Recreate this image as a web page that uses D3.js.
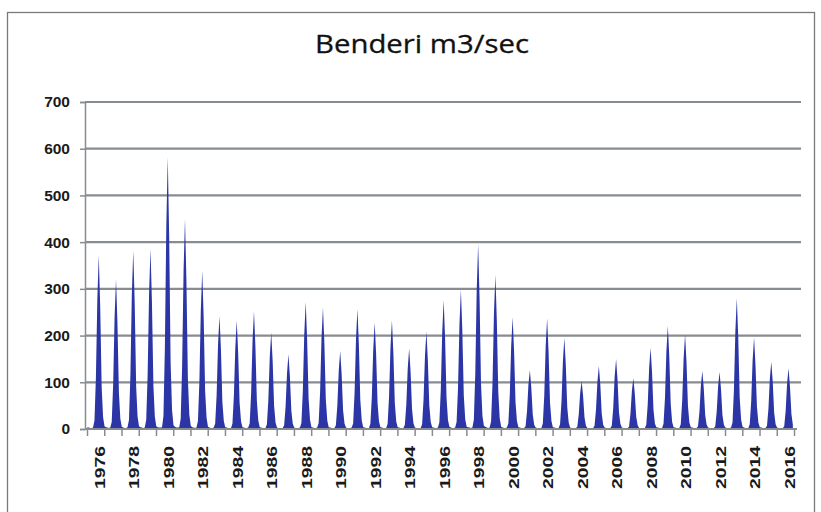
<!DOCTYPE html>
<html>
<head>
<meta charset="utf-8">
<script src="https://cdn.jsdelivr.net/npm/d3@7"></script>
<style>
  html, body { margin: 0; padding: 0; background: #fff; }
  svg { display: block; }
</style>
</head>
<body>
<svg id="chart" width="821" height="512"></svg>
<script>
// Monthly mean discharge at Benderi (m3/sec), Jan..Dec for each year
const years = d3.range(1976, 2017);
const monthlyFlow = [
  [4,3,2,2,3,18,110,280,372,260,90,25],   // 1976
  [6,4,3,2,3,15,95,240,321,225,78,22],    // 1977
  [5,3,2,2,4,19,115,288,382,268,92,26],   // 1978
  [6,4,3,2,3,19,116,290,386,270,94,27],   // 1979
  [6,4,3,3,4,28,175,436,582,408,140,40],  // 1980
  [8,5,3,3,4,22,135,338,450,315,108,31],  // 1981
  [7,4,3,2,3,17,100,254,339,237,82,24],   // 1982
  [5,3,2,2,3,12,72,182,242,170,58,17],    // 1983
  [4,3,2,2,2,11,70,174,232,162,56,16],    // 1984
  [4,3,2,2,3,12,76,189,252,176,61,18],    // 1985
  [4,3,2,2,2,10,62,155,207,145,50,14],    // 1986
  [3,2,2,1,2,8,48,120,160,112,39,11],     // 1987
  [3,2,2,2,3,13,82,204,272,190,66,19],    // 1988
  [4,3,2,2,3,13,78,195,260,182,63,18],    // 1989
  [4,3,2,2,2,8,50,125,167,117,40,12],     // 1990
  [3,2,2,2,3,12,77,193,257,180,62,18],    // 1991
  [4,3,2,2,2,11,68,171,228,160,55,16],    // 1992
  [4,3,2,2,2,11,70,175,233,163,56,16],    // 1993
  [4,3,2,1,2,9,52,130,173,121,42,12],     // 1994
  [3,2,2,2,2,10,63,157,209,146,51,15],    // 1995
  [4,3,2,2,3,14,83,207,276,193,67,19],    // 1996
  [5,3,2,2,3,15,89,224,298,209,72,21],    // 1997
  [5,4,3,2,3,20,119,297,396,277,96,28],   // 1998
  [7,5,3,2,3,16,99,248,330,231,80,23],    // 1999
  [5,3,2,2,3,12,72,179,239,167,58,17],    // 2000
  [4,3,2,1,2,6,38,95,126,88,31,9],        // 2001
  [3,2,2,2,2,12,71,178,237,166,57,17],    // 2002
  [4,3,2,2,2,10,59,146,195,137,47,14],    // 2003
  [3,2,2,1,2,5,31,77,103,72,25,7],        // 2004
  [2,2,1,1,2,7,41,101,135,95,33,9],       // 2005
  [3,2,2,1,2,7,45,113,150,105,36,11],     // 2006
  [3,2,2,1,2,5,33,82,109,76,26,8],        // 2007
  [2,2,1,1,2,9,52,131,174,122,42,12],     // 2008
  [4,3,2,2,2,11,66,166,221,155,54,15],    // 2009
  [4,3,2,2,2,10,61,152,203,142,49,14],    // 2010
  [4,3,2,1,2,6,37,93,124,87,30,9],        // 2011
  [3,2,2,1,2,6,37,92,122,85,30,9],        // 2012
  [3,2,2,2,3,14,84,210,280,196,68,20],    // 2013
  [5,3,2,2,2,10,59,147,196,137,48,14],    // 2014
  [4,3,2,1,2,7,43,108,144,101,35,10],     // 2015
  [3,2,2,1,2,6,39,98,130,91,32,9]         // 2016
];
const yTicks = [0, 100, 200, 300, 400, 500, 600, 700];
const yearLabels = d3.range(1976, 2017, 2);
const title = "Benderi  m3/sec";

// flatten into a month-indexed series (0 = Jan 1976)
const series = [];
monthlyFlow.forEach((row, yi) => row.forEach((v, m) => series.push({ t: yi * 12 + m, v })));

const svg = d3.select("#chart");
const nMonths = years.length * 12;

const x = d3.scaleLinear().domain([0, nMonths]).range([87, 794]);
const y = d3.scaleLinear().domain([0, 700]).range([429, 102]);

const gridColor = "#878c91";

// outer frame
svg.append("rect")
  .attr("x", 7.5).attr("y", 12.5).attr("width", 807).attr("height", 530)
  .attr("fill", "none").attr("stroke", "#7a7a7a").attr("stroke-width", 1.3);

// title
svg.append("text")
  .attr("x", 422).attr("y", 53)
  .attr("text-anchor", "middle")
  .attr("font-family", "'Open Sans', 'Noto Sans', sans-serif")
  .attr("font-size", 25)
  .attr("fill", "#111")
  .attr("stroke", "#111").attr("stroke-width", 0.3)
  .attr("textLength", 214)
  .attr("lengthAdjust", "spacingAndGlyphs")
  .text(title);

// horizontal gridlines
svg.append("g")
  .selectAll("line")
  .data(yTicks.filter(d => d > 0))
  .join("line")
  .attr("x1", 85).attr("x2", 801)
  .attr("y1", d => y(d)).attr("y2", d => y(d))
  .attr("stroke", gridColor).attr("stroke-width", 2.2);

// y axis
const yAxis = d3.axisLeft(y).tickValues(yTicks).tickSize(5).tickPadding(10);
const gy = svg.append("g").attr("transform", "translate(85,0)").call(yAxis);
gy.select(".domain").attr("stroke", gridColor).attr("stroke-width", 1.5);
gy.selectAll(".tick line").attr("stroke", gridColor).attr("stroke-width", 1.5);
gy.selectAll(".tick text")
  .attr("font-family", "'Liberation Sans', Arial, sans-serif")
  .attr("font-weight", "bold")
  .attr("font-size", 15.5)
  .attr("fill", "#1a1a1a");

// discharge area
const area = d3.area()
  .x(d => x(d.t + 0.2))
  .y0(y(0))
  .y1(d => y(d.v));
svg.append("path")
  .datum(series)
  .attr("d", area)
  .attr("fill", "#2b35a6");

// x axis baseline and yearly ticks
const xAxis = d3.axisBottom(x)
  .tickValues(d3.range(0, nMonths + 1, 12))
  .tickSize(7)
  .tickFormat("");
const gx = svg.append("g").attr("transform", `translate(0,${y(0)})`).call(xAxis);
gx.select(".domain").attr("stroke", gridColor).attr("stroke-width", 2)
  .attr("d", `M85,0H797`);
gx.selectAll(".tick line").attr("stroke", gridColor).attr("stroke-width", 1.5);

// rotated year labels
svg.append("g")
  .selectAll("text")
  .data(yearLabels)
  .join("text")
  .attr("transform", d => `translate(${x((d - 1976) * 12 + 8.6)},446) rotate(-90)`)
  .attr("text-anchor", "end")
  .attr("dy", "0.36em")
  .attr("font-family", "'Liberation Sans', Arial, sans-serif")
  .attr("font-weight", "bold")
  .attr("font-size", 15)
  .attr("fill", "#1a1a1a")
  .attr("textLength", 43)
  .attr("lengthAdjust", "spacingAndGlyphs")
  .text(d => d);
</script>
</body>
</html>
